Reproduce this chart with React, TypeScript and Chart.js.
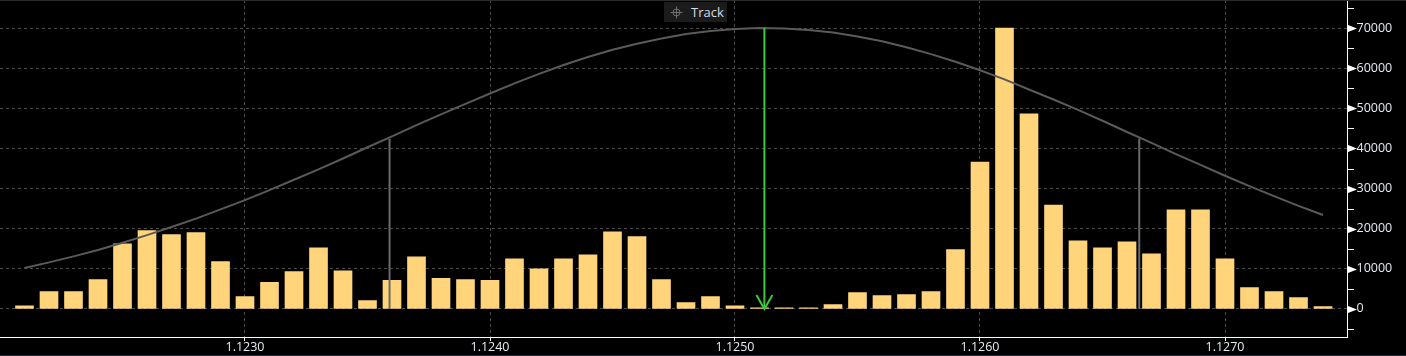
import React, { useEffect, useRef } from 'react';
import { Chart, registerables } from 'chart.js';

Chart.register(...registerables);

// Price levels (x) of each volume bar
const prices = [
  1.1221, 1.1222, 1.1223, 1.1224, 1.1225, 1.1226, 1.1227, 1.1228, 1.1229, 1.123,
  1.1231, 1.1232, 1.1233, 1.1234, 1.1235, 1.1236, 1.1237, 1.1238, 1.1239, 1.124,
  1.1241, 1.1242, 1.1243, 1.1244, 1.1245, 1.1246, 1.1247, 1.1248, 1.1249, 1.125,
  1.1251, 1.1252, 1.1253, 1.1254, 1.1255, 1.1256, 1.1257, 1.1258, 1.1259, 1.126,
  1.1261, 1.1262, 1.1263, 1.1264, 1.1265, 1.1266, 1.1267, 1.1268, 1.1269, 1.127,
  1.1271, 1.1272, 1.1273, 1.1274,
];

// Volume at each price level
const volumes = [
  800, 4300, 4300, 7300, 16200, 19500, 18500, 19000, 11800, 3100,
  6600, 9300, 15200, 9500, 2100, 7100, 13000, 7600, 7300, 7100,
  12500, 10000, 12500, 13500, 19200, 18000, 7300, 1600, 3100, 800,
  250, 250, 250, 1100, 4100, 3300, 3600, 4300, 14800, 36600,
  70000, 48600, 25900, 17000, 15200, 16700, 13700, 24700, 24700, 12500,
  5300, 4300, 2800, 600,
];

// Distribution curve read at each price level
const curve = [
  10200, 11600, 13100, 14700, 16500, 18400, 20400, 22500, 24800, 27100,
  29600, 32200, 34800, 37500, 40300, 43000, 45800, 48500, 51100, 53700,
  56200, 58600, 60800, 62800, 64600, 66100, 67400, 68500, 69300, 69800,
  70000, 69900, 69500, 68900, 67900, 66700, 65200, 63500, 61600, 59500,
  57200, 54700, 52200, 49600, 46900, 44100, 41400, 38600, 35900, 33200,
  30600, 28100, 25700, 23400,
];

const xTicks = [1.123, 1.124, 1.125, 1.126, 1.127];
const yTicks = [0, 10000, 20000, 30000, 40000, 50000, 60000, 70000];
const yMinorTicks = [-5000, 5000, 15000, 25000, 35000, 45000, 55000, 65000, 75000];

const sigmaPrices = [1.12359, 1.12665];
const sigmaLevels = [42400, 42500];
const meanPrice = 1.12512;
const meanLevel = 70000;

const FONT = "'Open Sans', 'Noto Sans', sans-serif";

const decor = {
  id: 'decor',
  beforeDraw(chart: any) {
    const ctx = chart.ctx;
    ctx.save();
    ctx.fillStyle = '#000';
    ctx.fillRect(0, 0, chart.width, chart.height);
    ctx.restore();
  },
  afterDraw(chart: any) {
    const ctx = chart.ctx;
    const x = chart.scales.x;
    const y = chart.scales.y;
    ctx.save();
    // top and bottom frame lines
    ctx.fillStyle = '#2c2c2c';
    ctx.fillRect(0, 0, chart.width, 1);
    ctx.fillStyle = '#1b2d4a';
    ctx.fillRect(0, chart.height - 1, chart.width, 1);

    const axisX = Math.round(y.left);
    // minor ticks
    ctx.strokeStyle = '#ffffff';
    ctx.lineWidth = 1;
    yMinorTicks.forEach((v) => {
      const py = Math.round(y.getPixelForValue(v)) + 0.5;
      ctx.beginPath();
      ctx.moveTo(axisX, py);
      ctx.lineTo(axisX + 6, py);
      ctx.stroke();
    });
    // major triangles
    ctx.fillStyle = '#ffffff';
    yTicks.forEach((v) => {
      const py = Math.round(y.getPixelForValue(v)) + 0.5;
      ctx.beginPath();
      ctx.moveTo(axisX, py - 3.5);
      ctx.lineTo(axisX + 9, py);
      ctx.lineTo(axisX, py + 3.5);
      ctx.closePath();
      ctx.fill();
    });

    // green arrow head at mean
    const mx = x.getPixelForValue(meanPrice);
    const my = y.getPixelForValue(0);
    ctx.strokeStyle = '#3cc83c';
    ctx.lineWidth = 2;
    ctx.beginPath();
    ctx.moveTo(mx - 8, my - 14);
    ctx.lineTo(mx, my);
    ctx.lineTo(mx + 8, my - 14);
    ctx.stroke();
    ctx.restore();
  },
};

export default function App() {
  const canvasRef = useRef<HTMLCanvasElement>(null);

  useEffect(() => {
    document.body.style.margin = '0';
    document.body.style.background = '#000';
    const canvas = canvasRef.current;
    if (!canvas) return;

    const barData = prices.map((p, i) => ({ x: p, y: volumes[i] }));
    const curveData = prices.map((p, i) => ({ x: p, y: curve[i] }));

    const chart = new Chart(canvas, {
      type: 'bar',
      data: {
        datasets: [
          {
            type: 'line',
            label: 'curve',
            data: curveData,
            borderColor: '#5a5a5a',
            borderWidth: 2,
            pointRadius: 0,
            tension: 0,
            order: 1,
          } as any,
          {
            type: 'line',
            label: 'sigmaLow',
            data: [
              { x: sigmaPrices[0], y: 0 },
              { x: sigmaPrices[0], y: sigmaLevels[0] },
            ],
            borderColor: '#6a6a6a',
            borderWidth: 2,
            pointRadius: 0,
            order: 1,
          } as any,
          {
            type: 'line',
            label: 'sigmaHigh',
            data: [
              { x: sigmaPrices[1], y: 0 },
              { x: sigmaPrices[1], y: sigmaLevels[1] },
            ],
            borderColor: '#6a6a6a',
            borderWidth: 2,
            pointRadius: 0,
            order: 1,
          } as any,
          {
            type: 'line',
            label: 'mean',
            data: [
              { x: meanPrice, y: 0 },
              { x: meanPrice, y: meanLevel },
            ],
            borderColor: '#3cc83c',
            borderWidth: 2,
            pointRadius: 0,
            order: 0,
          } as any,
          {
            type: 'bar',
            label: 'Volume',
            data: barData,
            backgroundColor: '#ffd47a',
            borderWidth: 0,
            barThickness: 18,
            order: 2,
          } as any,
        ],
      },
      options: {
        animation: false,
        responsive: false,
        events: [],
        layout: { padding: 0 },
        plugins: {
          legend: { display: false },
          tooltip: { enabled: false },
        },
        scales: {
          x: {
            type: 'linear',
            min: 1.122,
            max: 1.1275,
            offset: false,
            afterBuildTicks: (scale: any) => {
              scale.ticks = xTicks.map((v) => ({ value: v }));
            },
            afterFit: (scale: any) => {
              scale.height = 19;
              scale.paddingLeft = 0;
              scale.paddingRight = 0;
            },
            grid: {
              offset: false,
              color: '#4c4c4c',
              lineWidth: 1,
              drawTicks: true,
              tickLength: 4,
              tickColor: '#ffffff',
              tickWidth: 1,
              tickBorderDash: [],
            },
            border: { display: true, color: '#ffffff', width: 1, dash: [3, 3] },
            ticks: {
              autoSkip: false,
              maxRotation: 0,
              padding: 0,
              color: '#e6ecf4',
              font: { family: FONT, size: 12.5, lineHeight: 1 },
              callback: (v: any) => Number(v).toFixed(4),
            },
          },
          y: {
            type: 'linear',
            position: 'right',
            min: -7000,
            max: 77000,
            afterBuildTicks: (scale: any) => {
              scale.ticks = yTicks.map((v) => ({ value: v }));
            },
            afterFit: (scale: any) => {
              scale.width = 58.5;
              scale.paddingTop = 0;
              scale.paddingBottom = 0;
            },
            grid: {
              color: '#4c4c4c',
              lineWidth: 1,
              drawTicks: false,
            },
            border: { display: true, color: '#ffffff', width: 1, dash: [3, 3] },
            ticks: {
              padding: 9,
              color: '#e6ecf4',
              font: { family: FONT, size: 12.5 },
              callback: (v: any) => String(v),
            },
          },
        },
      } as any,
      plugins: [decor],
    });

    return () => chart.destroy();
  }, []);

  return (
    <div style={{ position: 'fixed', left: 0, top: 0, width: 1406, height: 356, background: '#000' }}>
      <canvas ref={canvasRef} width={1406} height={356} style={{ display: 'block' }} />
      <div
        style={{
          position: 'absolute',
          left: 664,
          top: 2,
          width: 63,
          height: 20,
          background: '#1b1b1b',
          display: 'flex',
          alignItems: 'center',
          fontFamily: FONT,
          fontSize: 13,
          color: '#d4dae6',
        }}
      >
        <svg width="13" height="13" viewBox="0 0 13 13" style={{ marginLeft: 6, marginRight: 8 }}>
          <circle cx="6.5" cy="6.5" r="3.5" fill="none" stroke="#6e6e6e" strokeWidth="1" />
          <line x1="6.5" y1="0.5" x2="6.5" y2="12.5" stroke="#6e6e6e" strokeWidth="1" />
          <line x1="0.5" y1="6.5" x2="12.5" y2="6.5" stroke="#6e6e6e" strokeWidth="1" />
        </svg>
        <span>Track</span>
      </div>
    </div>
  );
}
